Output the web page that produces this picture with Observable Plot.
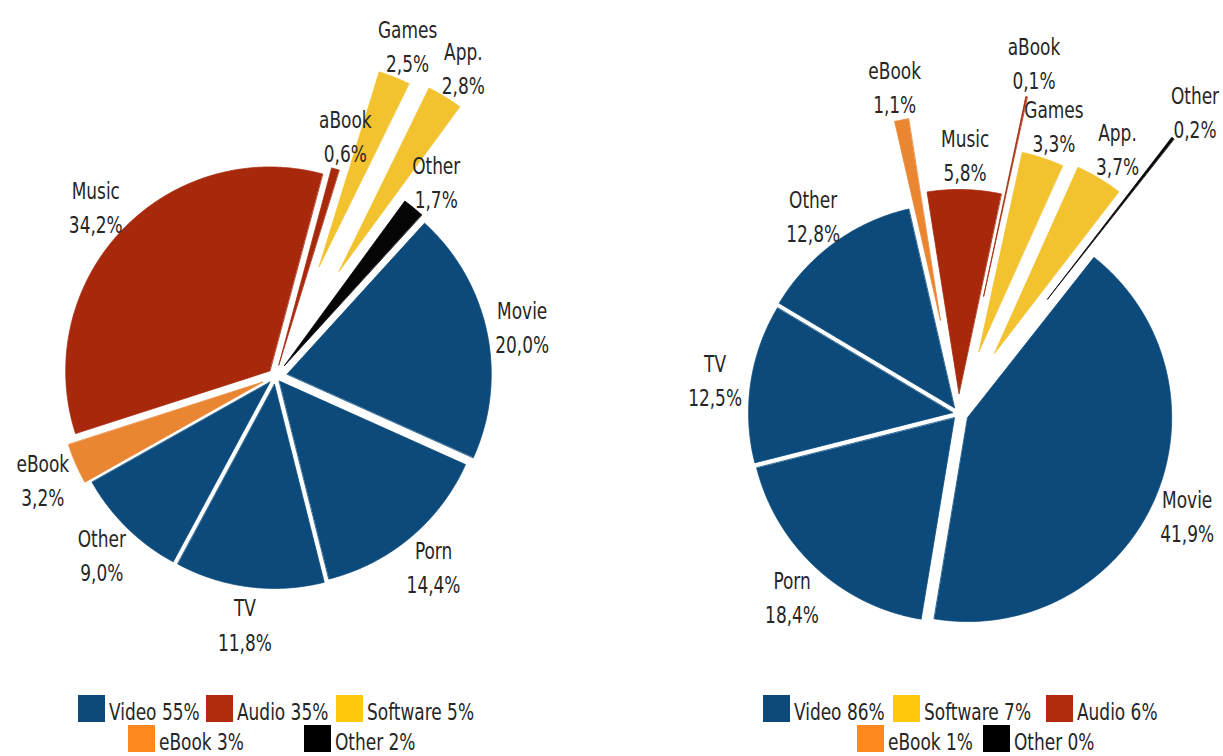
<!DOCTYPE html>
<html><head><meta charset="utf-8">
<script src="https://cdn.jsdelivr.net/npm/d3@7"></script>
<script src="https://cdn.jsdelivr.net/npm/@observablehq/plot@0.6"></script>
<style>
body{margin:0;background:#fff;}
#wrap{position:relative;width:1223px;height:756px;overflow:hidden;font-family:"DejaVu Sans Condensed","DejaVu Sans",sans-serif;font-stretch:condensed;}
.pie{position:absolute;top:0;font-stretch:condensed;}
.sw{position:absolute;width:27px;height:27px;}
.lt{position:absolute;font-size:23px;line-height:22px;color:#262626;white-space:nowrap;transform:scaleX(0.82);transform-origin:0 0;}
</style></head><body>
<div id="wrap"></div>
<script>
// ---- data (left chart) ----
const leftLabels  = ["aBook","Games","App.","Other","Movie","Porn","TV","Other","eBook","Music"];
const leftValues  = [0.6, 2.5, 2.8, 1.7, 20.0, 14.4, 11.8, 9.0, 3.2, 34.2];
const leftGroups  = ["Audio","Software","Software","Other","Video","Video","Video","Video","eBook","Audio"];
// ---- data (right chart) ----
const rightLabels = ["Music","aBook","Games","App.","Other","Movie","Porn","TV","Other","eBook"];
const rightValues = [5.8, 0.1, 3.3, 3.7, 0.2, 41.9, 18.4, 12.5, 12.8, 1.1];
const rightGroups = ["Audio","Audio","Software","Software","Other","Video","Video","Video","Video","eBook"];
// ---- legends ----
const leftLegendGroups  = ["Video","Audio","Software","eBook","Other"];
const leftLegendValues  = [55, 35, 5, 3, 2];
const rightLegendGroups = ["Video","Software","Audio","eBook","Other"];
const rightLegendValues = [86, 7, 6, 1, 0];

// ---- styling / layout ----
const FONT = '"DejaVu Sans Condensed","DejaVu Sans",sans-serif';
const H = 690, R = 204, LABEL_R = 240;
const leftExplode  = [12, 118, 123, 14, 12, 6, 8, 8, 14, 8];
const rightExplode = [20, 120, 65, 70, 145, 10, 6, 6, 7, 95];
const groupDomain = ["Video","Audio","Software","eBook","Other"];
const pieColors   = ["#0b4a7b","#a7280b","#f3c22f","#ea8532","#050505"];
const legendColors = {Video:"#0b4a7b", Audio:"#b02c0d", Software:"#ffc90e", eBook:"#ff891e", Other:"#000000"};

function pieLayout(labels, values, groups, explode, startDeg) {
  const start = startDeg * Math.PI / 180;
  const arcs = d3.pie().sort(null).value(d => d).startAngle(start).endAngle(start + 2 * Math.PI)(values);
  const poly = [], text = [];
  arcs.forEach((a, i) => {
    const b = (a.startAngle + a.endAngle) / 2;
    const ox = explode[i] * Math.sin(b), oy = -explode[i] * Math.cos(b);
    poly.push({id: i, group: groups[i], x: ox, y: oy});
    const n = Math.max(2, Math.ceil((a.endAngle - a.startAngle) / 0.005));
    for (let k = 0; k <= n; k++) {
      const t = a.startAngle + (a.endAngle - a.startAngle) * k / n;
      poly.push({id: i, group: groups[i], x: ox + R * Math.sin(t), y: oy - R * Math.cos(t)});
    }
    const lr = LABEL_R + explode[i];
    text.push({x: lr * Math.sin(b), y: -lr * Math.cos(b),
      label: labels[i] + "\n" + values[i].toFixed(1).replace(".", ",") + "%"});
  });
  return {poly, text};
}

function piePlot(layout, width, cx, cy) {
  const svg = Plot.plot({
    width, height: H, margin: 0,
    x: {axis: null, domain: [-cx, width - cx]},
    y: {axis: null, domain: [-cy, H - cy], reverse: true},
    color: {domain: groupDomain, range: pieColors},
    style: {fontFamily: FONT, background: "transparent", overflow: "visible"},
    marks: [
      Plot.line(layout.poly, {x: "x", y: "y", z: "id", fill: "group", stroke: "group", strokeWidth: 0.8, curve: "linear-closed"}),
      Plot.text(layout.text, {x: "x", y: "y", text: "label", fontSize: 23, lineHeight: 1.48, fill: "#262626", fontFamily: FONT})
    ]
  });
  svg.style.fontStretch = "condensed";
  // narrow the label glyphs horizontally (condensed look), keeping their anchor
  svg.querySelectorAll('g[aria-label="text"] text').forEach(t => {
    t.setAttribute("transform", (t.getAttribute("transform") || "") + " scale(0.82,1)");
  });
  return svg;
}

const wrap = document.getElementById("wrap");
const leftSvg = piePlot(pieLayout(leftLabels, leftValues, leftGroups, leftExplode, 15), 612, 275, 376);
leftSvg.classList.add("pie"); leftSvg.style.left = "0px";
wrap.appendChild(leftSvg);
const rightSvg = piePlot(pieLayout(rightLabels, rightValues, rightGroups, rightExplode, -9), 611, 346, 413);
rightSvg.classList.add("pie"); rightSvg.style.left = "612px";
wrap.appendChild(rightSvg);

// legend swatch positions (layout)
const leftLegendPos  = [[78,695],[206,695],[336,695],[128,725],[304,725]];
const rightLegendPos = [[763,695],[893,695],[1046,695],[857,725],[983,725]];
function addLegend(groups, values, pos) {
  groups.forEach((g, i) => {
    const [x, y] = pos[i];
    const sw = document.createElement("div");
    sw.className = "sw"; sw.style.left = x + "px"; sw.style.top = y + "px"; sw.style.background = legendColors[g];
    wrap.appendChild(sw);
    const t = document.createElement("div");
    t.className = "lt"; t.style.left = (x + 31) + "px"; t.style.top = (y + 6) + "px";
    t.textContent = g + " " + values[i] + "%";
    wrap.appendChild(t);
  });
}
addLegend(leftLegendGroups, leftLegendValues, leftLegendPos);
addLegend(rightLegendGroups, rightLegendValues, rightLegendPos);
</script>
</body></html>
